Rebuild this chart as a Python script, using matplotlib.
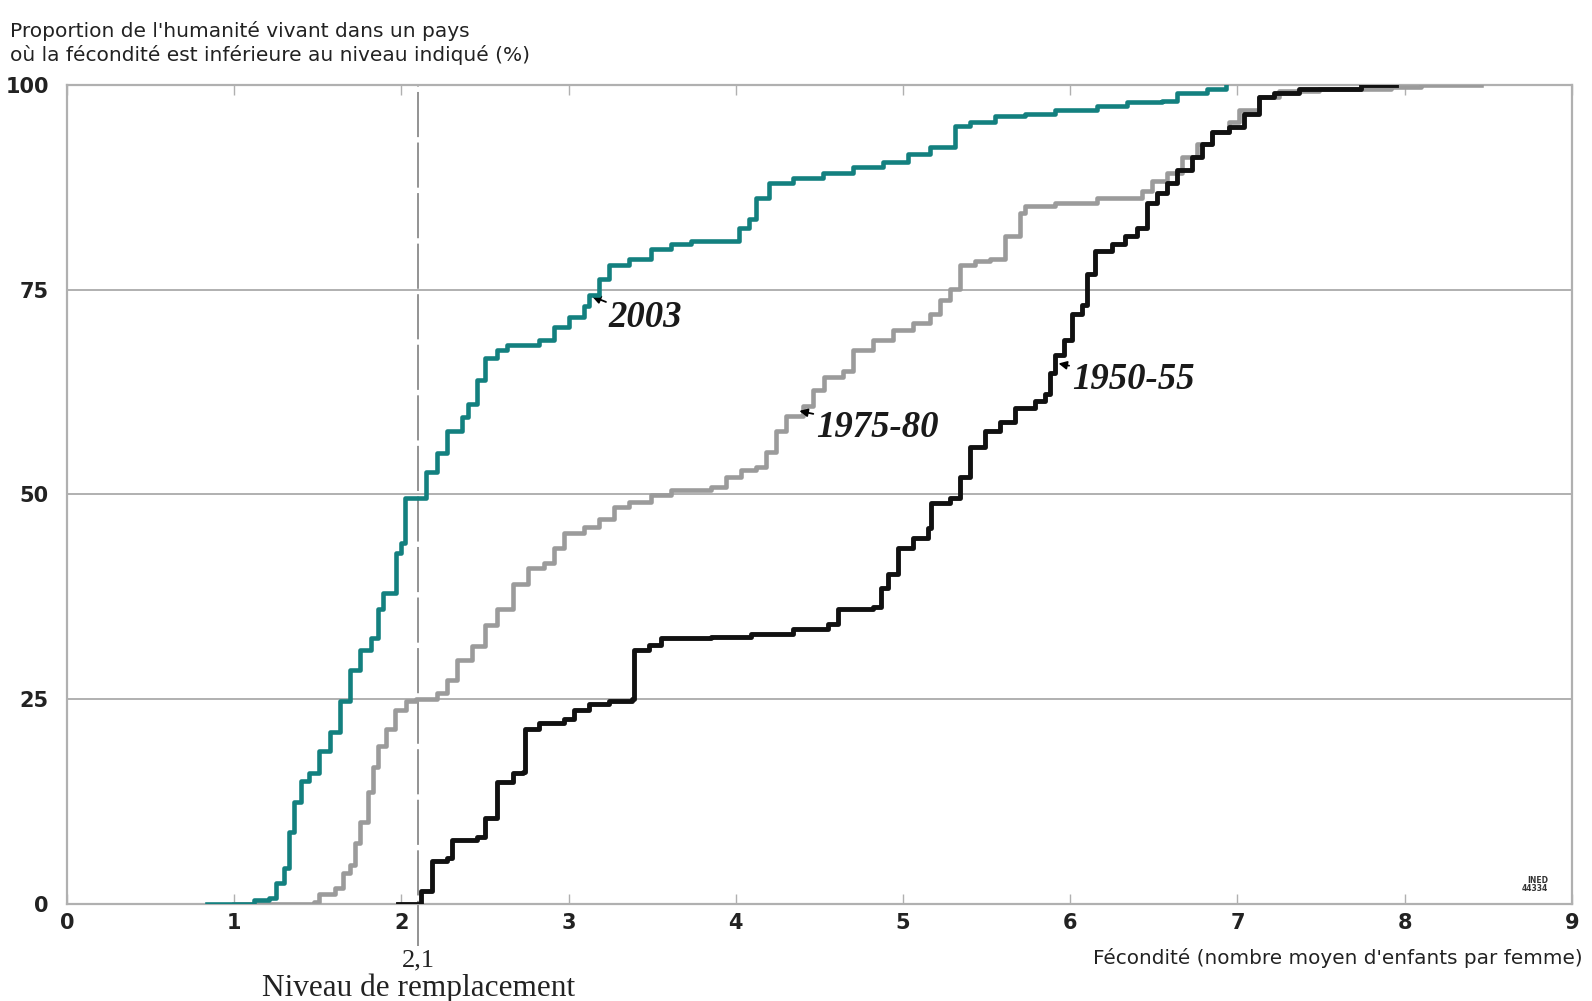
import matplotlib
matplotlib.use("Agg")
import matplotlib.pyplot as plt

# cumulative share of humanity (%) by total fertility (children per woman)
x_2003 = [0.84, 1.12, 1.21, 1.25, 1.30, 1.33, 1.36, 1.40, 1.45, 1.51, 1.57, 1.63, 1.69,
          1.75, 1.82, 1.86, 1.89, 1.96, 1.97, 2.00, 2.02, 2.09, 2.15, 2.21, 2.27, 2.36,
          2.40, 2.45, 2.50, 2.57, 2.63, 2.82, 2.91, 3.00, 3.09, 3.12, 3.18, 3.24, 3.36,
          3.49, 3.61, 3.73, 3.91, 4.02, 4.08, 4.12, 4.20, 4.34, 4.52, 4.70, 4.88, 5.03,
          5.16, 5.31, 5.40, 5.55, 5.73, 5.91, 6.16, 6.34, 6.55, 6.64, 6.82, 6.93]
y_2003 = [0.0, 0.4, 0.7, 2.5, 4.3, 8.7, 12.4, 15.0, 16.0, 18.6, 21.0, 24.8, 28.5,
          31.0, 32.5, 36.0, 38.0, 38.0, 42.8, 44.0, 49.6, 49.6, 52.7, 55.0, 57.7, 59.5,
          61.0, 64.0, 66.7, 67.6, 68.2, 68.9, 70.5, 71.7, 73.0, 74.4, 76.3, 78.0, 78.8,
          80.0, 80.6, 81.0, 81.0, 82.5, 83.7, 86.2, 88.0, 88.7, 89.3, 90.0, 90.6, 91.6,
          92.4, 95.0, 95.5, 96.2, 96.5, 97.0, 97.5, 98.0, 98.1, 99.0, 99.5, 100.0]

x_1975 = [1.00, 1.48, 1.51, 1.60, 1.65, 1.69, 1.72, 1.75, 1.80, 1.83, 1.86, 1.91, 1.96,
          2.03, 2.09, 2.21, 2.27, 2.33, 2.42, 2.50, 2.57, 2.67, 2.76, 2.85, 2.91, 2.97,
          3.09, 3.18, 3.27, 3.36, 3.49, 3.61, 3.85, 3.94, 4.03, 4.12, 4.18, 4.24, 4.30,
          4.40, 4.46, 4.53, 4.64, 4.70, 4.82, 4.94, 5.06, 5.16, 5.22, 5.28, 5.34, 5.43,
          5.52, 5.61, 5.70, 5.73, 5.91, 6.16, 6.43, 6.49, 6.58, 6.67, 6.76, 6.85, 6.95,
          7.01, 7.13, 7.25, 7.49, 7.92, 8.10, 8.46]
y_1975 = [0.0, 0.2, 1.2, 1.9, 3.7, 4.7, 7.4, 10.0, 13.6, 16.7, 19.2, 21.3, 23.6,
          24.8, 25.0, 25.7, 27.3, 29.8, 31.5, 34.0, 36.0, 39.0, 41.0, 41.6, 43.4, 45.3,
          46.0, 47.0, 48.4, 49.1, 49.9, 50.5, 50.9, 52.1, 53.0, 53.3, 55.2, 57.7, 59.6,
          60.8, 62.7, 64.3, 65.1, 67.6, 68.9, 70.1, 71.0, 72.0, 73.8, 75.1, 78.0, 78.5,
          78.8, 81.6, 84.4, 85.2, 85.6, 86.2, 87.1, 88.3, 89.3, 91.2, 92.8, 94.3, 95.5,
          97.0, 98.6, 99.3, 99.5, 99.8, 100.0, 100.0]

x_1950 = [1.98, 2.09, 2.12, 2.18, 2.27, 2.30, 2.45, 2.50, 2.57, 2.67, 2.73, 2.74, 2.82,
          2.97, 3.03, 3.12, 3.24, 3.38, 3.39, 3.48, 3.55, 3.64, 3.85, 4.09, 4.34, 4.55,
          4.61, 4.82, 4.87, 4.91, 4.97, 5.06, 5.15, 5.17, 5.28, 5.34, 5.40, 5.49, 5.58,
          5.67, 5.79, 5.85, 5.88, 5.91, 5.96, 6.01, 6.07, 6.10, 6.15, 6.25, 6.33, 6.40,
          6.46, 6.52, 6.58, 6.64, 6.73, 6.79, 6.85, 6.95, 7.04, 7.13, 7.22, 7.37, 7.74,
          7.95]
y_1950 = [0.0, 0.0, 1.5, 5.2, 5.6, 7.7, 8.1, 10.5, 14.9, 15.9, 16.1, 21.3, 22.1,
          22.6, 23.6, 24.4, 24.8, 25.0, 31.0, 31.6, 32.5, 32.5, 32.6, 32.9, 33.5, 34.2,
          36.0, 36.2, 38.5, 40.3, 43.4, 44.7, 45.9, 49.0, 49.6, 52.1, 55.8, 57.7, 58.9,
          60.5, 61.4, 62.3, 64.8, 67.0, 68.9, 72.0, 73.2, 76.9, 79.7, 80.6, 81.6, 82.5,
          85.6, 86.8, 88.1, 89.6, 91.2, 92.8, 94.3, 94.9, 96.5, 98.6, 99.0, 99.6, 100.0,
          100.0]

x_ticks = [0, 1, 2, 3, 4, 5, 6, 7, 8, 9]
y_ticks = [0, 25, 50, 75, 100]
replacement = 2.1

TEAL = "#13807f"
GREY = "#9b9b9b"
BLACK = "#111111"
FRAME = "#b0b0b0"
SANS = ["DejaVu Sans"]
SERIF = ["Liberation Serif", "DejaVu Serif"]

fig = plt.figure(figsize=(15.92, 10.01), dpi=100)
ax = fig.add_axes([0.0421, 0.0974, 0.9452, 0.8174])

ax.set_xlim(0, 9)
ax.set_ylim(0, 100)

for yv in y_ticks[1:-1]:
    ax.axhline(yv, color=FRAME, lw=1.4, zorder=1)
for s in ax.spines.values():
    s.set_color(FRAME)
    s.set_linewidth(1.6)

# replacement level line, runs below the axis down to its label
ax.plot([replacement, replacement], [-5.2, 100], color="#8a8a8a", lw=1.3,
        dashes=(25, 3), clip_on=False, zorder=2)

ax.plot(x_1975, y_1975, drawstyle="steps-post", color=GREY, lw=3.3, zorder=3)
ax.plot(x_1950, y_1950, drawstyle="steps-post", color=BLACK, lw=3.5, zorder=4)
ax.plot(x_2003, y_2003, drawstyle="steps-post", color=TEAL, lw=3.3, zorder=5)

ax.set_xticks(x_ticks)
ax.set_yticks(y_ticks)
ax.tick_params(axis="x", direction="in", length=7, width=1, color=FRAME,
               top=True, pad=7, labelsize=15)
ax.tick_params(axis="y", length=0, pad=13, labelsize=15)
for lab in ax.get_xticklabels() + ax.get_yticklabels():
    lab.set_family(SANS)
    lab.set_fontweight("bold")
    lab.set_color("#222222")

arrow = dict(arrowstyle="-|>", color="black", lw=1.3, mutation_scale=12,
             shrinkA=0, shrinkB=0)
lab_font = dict(family=SERIF, fontsize=26.5, fontweight="bold", style="italic",
                ha="left", va="center", color="#1a1a1a")
ax.annotate("2003", xy=(3.14, 74.2), xytext=(3.24, 71.6), arrowprops=arrow, **lab_font)
ax.annotate("1975-80", xy=(4.38, 60.2), xytext=(4.48, 58.2), arrowprops=arrow, **lab_font)
ax.annotate("1950-55", xy=(5.93, 66.0), xytext=(6.01, 64.1), arrowprops=arrow, **lab_font)

fig.text(0.006, 0.979, "Proportion de l'humanité vivant dans un pays\n"
         "où la fécondité est inférieure au niveau indiqué (%)",
         family=SANS, fontsize=14.5, va="top", ha="left", color="#222222",
         linespacing=1.25)
fig.text(0.994, 0.043, "Fécondité (nombre moyen d'enfants par femme)",
         family=SANS, fontsize=14.4, ha="right", va="center", color="#222222")

ax.text(replacement, -6.9, "2,1", family=SERIF, fontsize=19, ha="center",
        va="center", color="#222222")
ax.text(replacement, -10.4, "Niveau de remplacement", family=SERIF,
        fontsize=22.5, ha="center", va="center", color="#222222")

ax.text(8.86, 2.3, "INED\n44334", family=SANS, fontsize=5.5, ha="right",
        va="center", fontweight="bold", color="#333333", linespacing=0.9)

fig.savefig("out.png", dpi=100)
